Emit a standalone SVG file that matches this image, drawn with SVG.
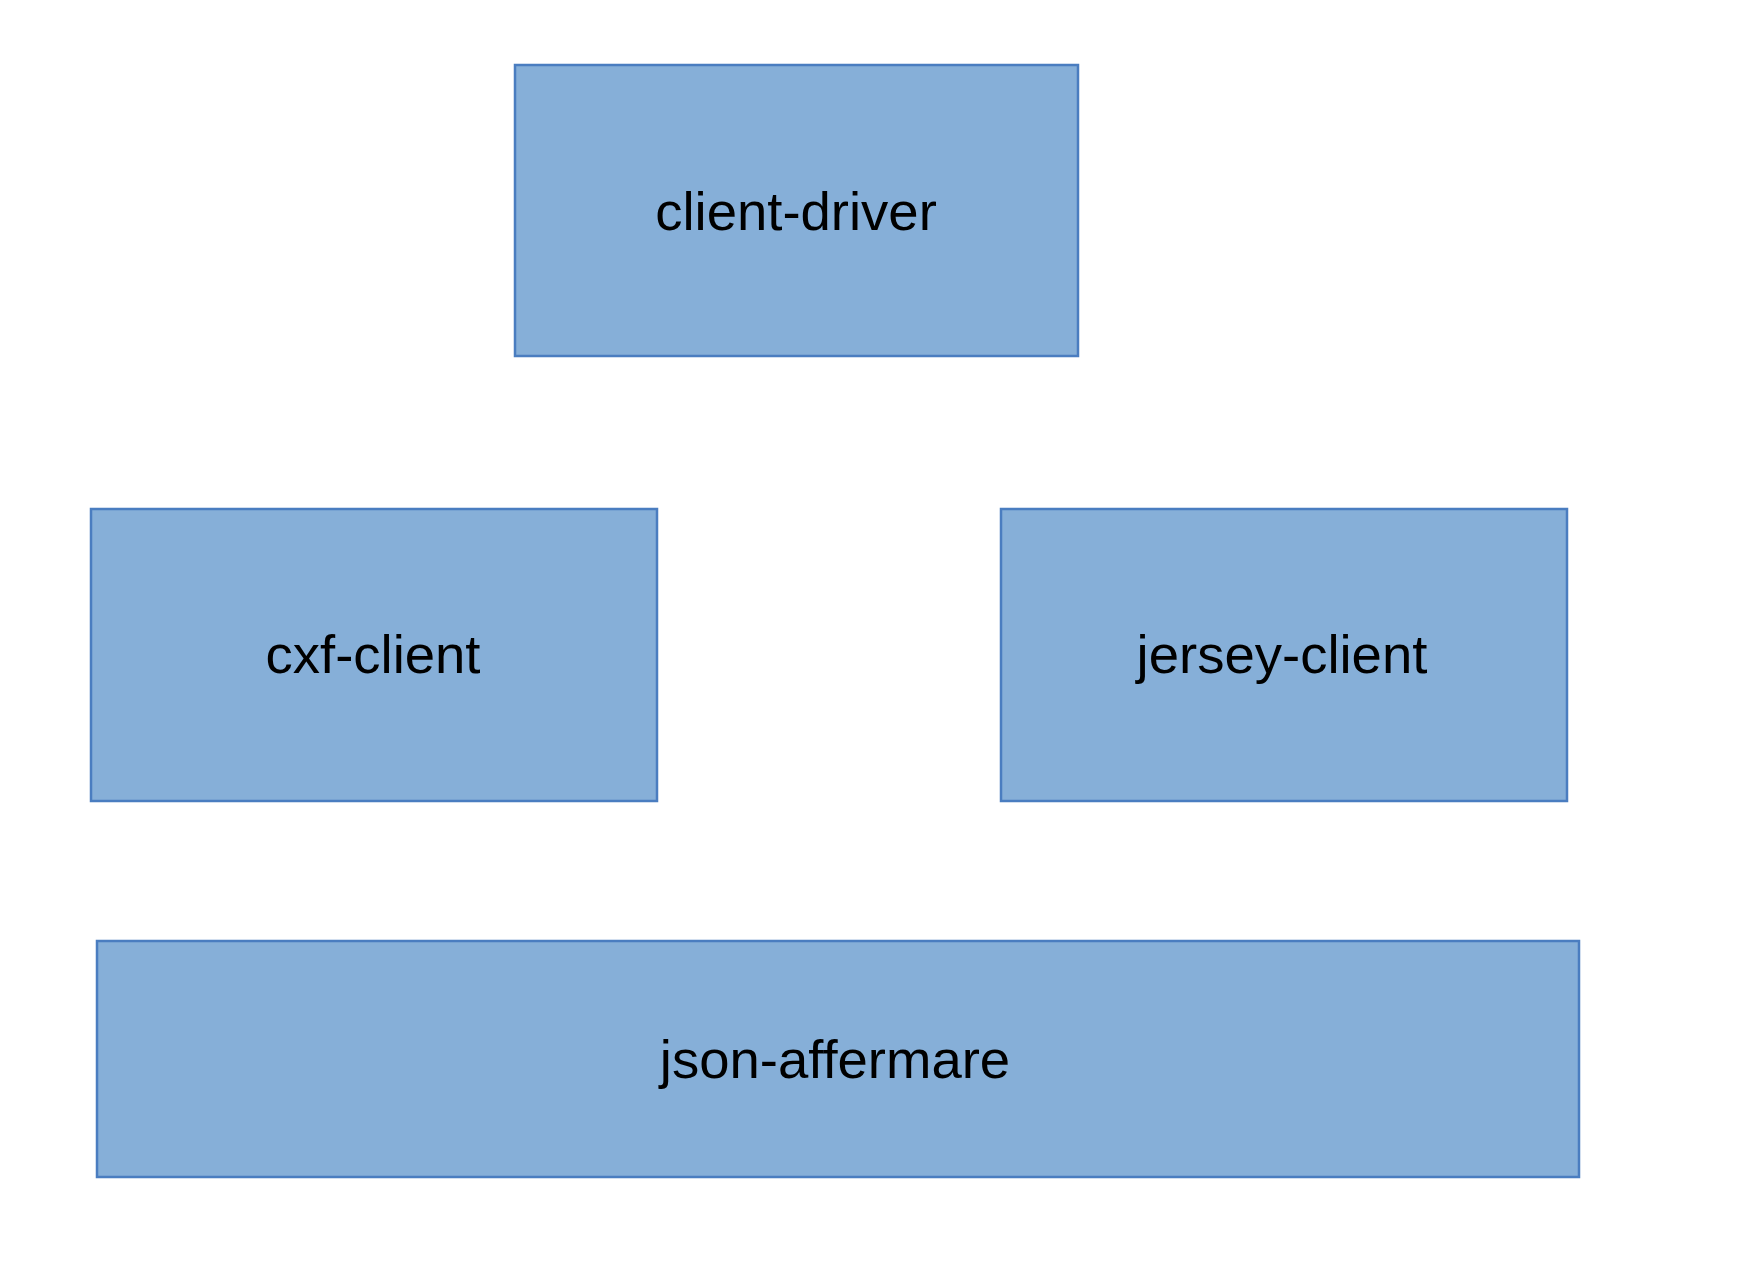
<svg xmlns="http://www.w3.org/2000/svg" width="1740" height="1278" viewBox="0 0 1740 1278">
<style>
.box{fill:#86AFD8;stroke:#4A7DC0;stroke-width:2.5}
.lbl{font-family:"Liberation Sans",Arial,sans-serif;font-size:54.5px;fill:#000;text-anchor:middle}
</style>
<rect width="1740" height="1278" fill="#fff"/>
<g id="connectors"></g>
<g id="client-driver"><rect class="box" x="515" y="65" width="563" height="291"/><text class="lbl" x="796" y="230">client-driver</text></g>
<g id="cxf-client"><rect class="box" x="91" y="509" width="566" height="292"/><text class="lbl" x="373" y="673">cxf-client</text></g>
<g id="jersey-client"><rect class="box" x="1001" y="509" width="566" height="292"/><text class="lbl" x="1282" y="673">jersey-client</text></g>
<g id="json-affermare"><rect class="box" x="97" y="941" width="1482" height="236"/><text class="lbl" x="835" y="1078">json-affermare</text></g>
</svg>
